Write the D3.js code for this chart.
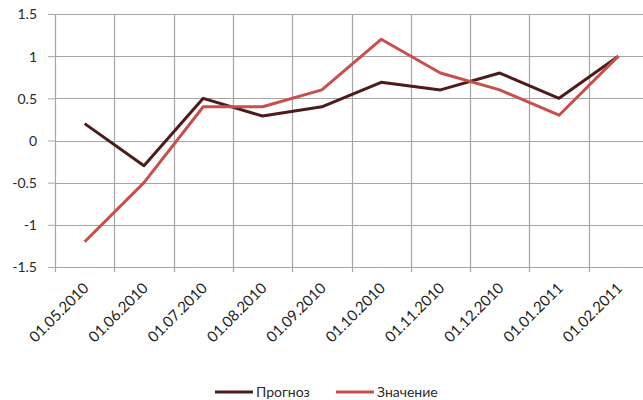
<!DOCTYPE html>
<html><head><meta charset="utf-8">
<script src="https://cdn.jsdelivr.net/npm/d3@7/dist/d3.min.js"></script>
<style>body{margin:0;background:#fff}svg{display:block}text{font-family:Lato,"Open Sans",sans-serif}</style>
</head><body>
<script>
const categories = ["01.05.2010","01.06.2010","01.07.2010","01.08.2010","01.09.2010","01.10.2010","01.11.2010","01.12.2010","01.01.2011","01.02.2011"];
const forecast = [0.2,-0.3,0.5,0.29,0.4,0.69,0.6,0.8,0.5,1.0];
const actual = [-1.2,-0.5,0.4,0.4,0.6,1.2,0.8,0.6,0.3,1.0];
const yTicks = [-1.5,-1,-0.5,0,0.5,1,1.5];
const seriesNames = ["Прогноз","Значение"];
const colors = ["#4e1b1b","#c84f4c"];

const W=643,H=400;
const m={left:55,top:14,right:648,bottom:267};
const svg=d3.select("body").append("svg").attr("width",W).attr("height",H);
const x=d3.scaleBand().domain(categories).range([m.left,m.right]);
const y=d3.scaleLinear().domain([-1.5,1.5]).range([m.bottom,m.top]);

// horizontal gridlines + y axis
const ya=d3.axisLeft(y).tickValues(yTicks).tickSize(7).tickFormat(d=>String(d));
const gy=svg.append("g").attr("transform",`translate(${m.left},0)`).call(ya);
gy.select(".domain").remove();
gy.selectAll(".tick line").attr("stroke","#a6a6a6");
gy.selectAll(".tick text").attr("fill","#2a2a2a").style("font-size","14px").attr("x",-18).attr("dy","0.35em");
svg.append("g").selectAll("line").data(yTicks).join("line")
 .attr("x1",m.left).attr("x2",m.right).attr("y1",d=>Math.round(y(d))+0.5).attr("y2",d=>Math.round(y(d))+0.5)
 .attr("stroke","#a6a6a6").attr("stroke-width",1.2);
// vertical gridlines
const vx=categories.map(c=>x(c)).concat([m.right]);
svg.append("g").selectAll("line").data(vx).join("line")
 .attr("x1",d=>Math.round(d)+0.5).attr("x2",d=>Math.round(d)+0.5).attr("y1",m.top).attr("y2",m.bottom+5)
 .attr("stroke","#a6a6a6").attr("stroke-width",1.2);

// x labels
svg.append("g").selectAll("text").data(categories).join("text")
 .attr("transform",d=>`translate(${x(d)+x.bandwidth()/2+5},${m.bottom+22}) rotate(-45)`)
 .attr("text-anchor","end").attr("fill","#222").style("font-size","15px").text(d=>d);

const line=d3.line().x((d,i)=>x(categories[i])+x.bandwidth()/2).y(d=>y(d));
svg.append("path").datum(forecast).attr("d",line).attr("fill","none").attr("stroke",colors[0]).attr("stroke-width",3).attr("stroke-linejoin","round");
svg.append("path").datum(actual).attr("d",line).attr("fill","none").attr("stroke",colors[1]).attr("stroke-width",3).attr("stroke-linejoin","round");

// legend
const lg=svg.append("g");
const lx=[215,336];
seriesNames.forEach((n,i)=>{
 lg.append("line").attr("x1",lx[i]).attr("x2",lx[i]+38).attr("y1",392).attr("y2",392).attr("stroke",colors[i]).attr("stroke-width",3);
 lg.append("text").attr("x",lx[i]+41).attr("y",397).attr("fill","#2a2a2a").style("font-size","14px").text(n);
});
</script>
</body></html>
